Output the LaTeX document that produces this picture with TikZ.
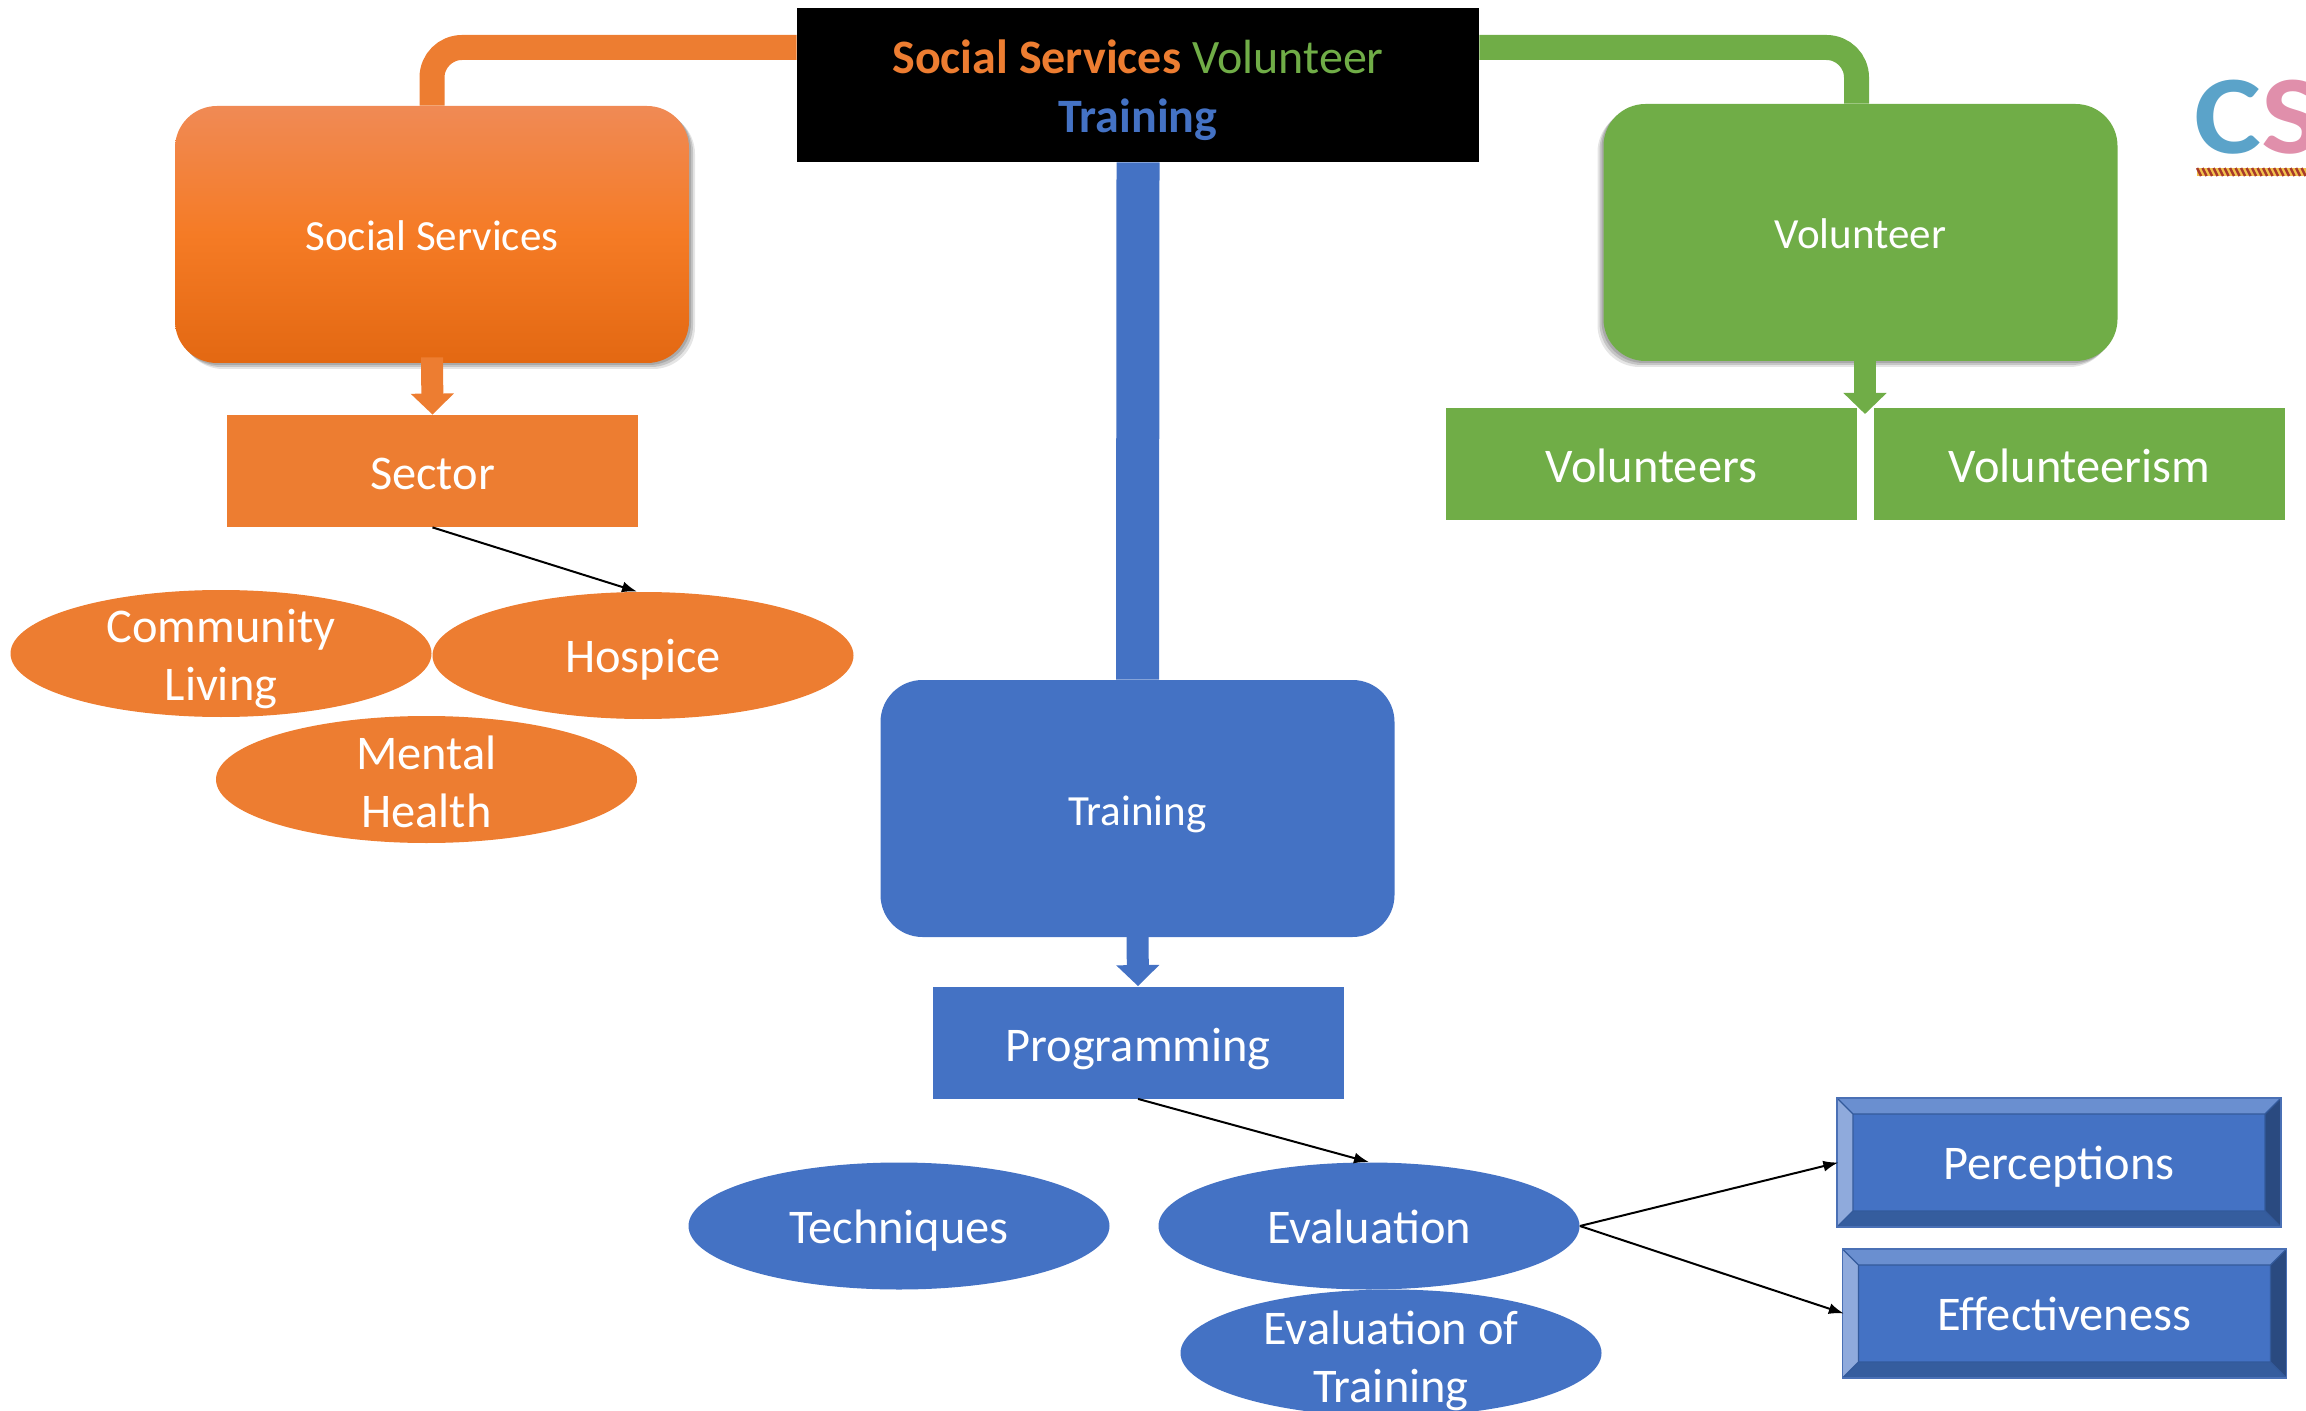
\documentclass[tikz,border=0pt]{standalone}
\usepackage{fontspec}
\setmainfont{Carlito}
\newfontfamily\logofont[FakeStretch=1.13]{Carlito}
\usetikzlibrary{arrows.meta,shapes.geometric,shadows,backgrounds,calc}
\definecolor{orangeC}{HTML}{ED7D31}
\definecolor{greenC}{HTML}{70AD47}
\definecolor{blueC}{HTML}{4472C4}
\definecolor{gradTop}{HTML}{F08A55}
\definecolor{gradMid}{HTML}{F57B25}
\definecolor{gradBot}{HTML}{E36812}
\tikzset{
  softR/.style={
    drop shadow={shadow xshift=1pt,shadow yshift=-1pt,opacity=.14,fill=black},
    drop shadow={shadow xshift=2pt,shadow yshift=-2pt,opacity=.14,fill=black},
    drop shadow={shadow xshift=3pt,shadow yshift=-3pt,opacity=.10,fill=black}},
  softL/.style={
    drop shadow={shadow xshift=-1pt,shadow yshift=-1pt,opacity=.14,fill=black},
    drop shadow={shadow xshift=-2pt,shadow yshift=-2pt,opacity=.14,fill=black},
    drop shadow={shadow xshift=-3pt,shadow yshift=-3pt,opacity=.10,fill=black}},
  bigbox/.style={rectangle,rounded corners=21pt,minimum width=257pt,minimum height=128.5pt,
    inner sep=0pt,text=white,text height=16.5pt,text depth=0pt,font=\fontsize{21.5}{26}\selectfont},
  flat/.style={rectangle,minimum width=205.5pt,minimum height=56pt,inner sep=0pt,
    text=white,text height=18.5pt,text depth=0pt,font=\fontsize{24.2}{28}\selectfont},
  oval/.style={ellipse,minimum width=210.5pt,minimum height=63.5pt,inner sep=-40pt,text=white,
    align=center,font=\fontsize{24.2}{29}\selectfont},
  ovalone/.style={oval,text height=17pt,text depth=0pt},
  bevelbox/.style={rectangle,minimum width=222pt,minimum height=64.5pt,inner sep=0pt,
    fill=blueC,draw=bevelEdgeB,line width=.7pt,text=white,text height=16.5pt,text depth=0pt,
    font=\fontsize{24.2}{28}\selectfont,
    path picture={
      \coordinate (nw) at (path picture bounding box.north west);
      \coordinate (ne) at (path picture bounding box.north east);
      \coordinate (sw) at (path picture bounding box.south west);
      \coordinate (se) at (path picture bounding box.south east);
      \coordinate (inw) at ($(nw)+(8pt,-8pt)$);
      \coordinate (ine) at ($(ne)+(-8pt,-8pt)$);
      \coordinate (isw) at ($(sw)+(8pt,8pt)$);
      \coordinate (ise) at ($(se)+(-8pt,8pt)$);
      \fill[fill=bevelTop] (nw)--(ne)--(ine)--(inw)--cycle;
      \fill[fill=bevelLeft] (nw)--(sw)--(isw)--(inw)--cycle;
      \fill[fill=bevelBot] (sw)--(se)--(ise)--(isw)--cycle;
      \fill[fill=bevelRight] (ne)--(se)--(ise)--(ine)--cycle;
      \draw[draw=bevelEdge,line width=.6pt] (inw) rectangle (ise) (nw)--(inw) (ne)--(ine) (sw)--(isw) (se)--(ise);
    }},
  thinarrow/.style={-{Latex[length=7.5pt,width=5.5pt]},line width=1pt,black},
  trunkline/.style={line width=12.5pt,rounded corners=15pt},
  blockarrow/.style={-{Triangle[length=10.5pt,width=21pt]},line width=11pt}
}
\definecolor{bevelTop}{HTML}{6A8FD0}
\definecolor{bevelLeft}{HTML}{8FAADC}
\definecolor{bevelBot}{HTML}{355D9E}
\definecolor{bevelRight}{HTML}{2A4A80}
\definecolor{bevelEdge}{HTML}{335A9B}
\definecolor{bevelEdgeB}{HTML}{4A70B5}
\definecolor{logoBlue}{HTML}{5BA3C9}
\definecolor{logoPink}{HTML}{E08FAB}
\definecolor{logoRed}{HTML}{A83A2A}
\definecolor{logoYellow}{HTML}{F2C14E}
\begin{document}
\begin{tikzpicture}[x=0.5pt,y=-0.5pt]
\clip (0,0) rectangle (2306,1411);
% logo
\node[inner sep=0pt,anchor=base west,font=\logofont\fontsize{56}{60}\bfseries\selectfont] (logo) at (2194,154)
  {\textcolor{logoBlue}{C}\textcolor{logoPink}{S}};
\coordinate (ruleL) at (2197,172);
\fill[logoYellow] (2197,168) rectangle (2306,176);
\foreach \i in {0,...,20}{
  \draw[logoRed,line width=1.2pt] ($(ruleL)+(\i*5.5,-4)$) -- ++(4,8);
}
% title
\node[rectangle,fill=black,minimum width=341pt,minimum height=77pt,inner sep=0pt,align=center,
  font=\fontsize{24}{29.5}\selectfont] (title) at (1138,85)
  {\rule{0pt}{22pt}\textcolor{orangeC}{\bfseries Social Services} \textcolor{greenC}{Volunteer}\\\textcolor{blueC}{\bfseries Training}\rule[-1pt]{0pt}{1pt}};
% main boxes
\node[bigbox,softR,top color=gradTop,bottom color=gradBot,middle color=gradMid] (social) at (432,234.5) {Social Services};
\node[bigbox,softL,fill=greenC] (volunteer) at (1860.5,232.5) {Volunteer};
\node[bigbox,fill=blueC] (training) at (1137.5,808.5) {Training};
% flat boxes
\node[flat,fill=orangeC] (sector) at (432.5,471) {Sector};
\node[flat,fill=greenC] (volunteers) at (1651.5,464) {Volunteers};
\node[flat,fill=greenC] (volunteerism) at (2079.5,464) {Volunteerism};
\node[flat,fill=blueC] (programming) at (1138,1042.5) {Programming};
% ovals
\node[oval,fill=orangeC] (community) at (221,653.5) {\rule{0pt}{22pt}Community\\Living};
\node[ovalone,fill=orangeC] (hospice) at (643,655.5) {Hospice};
\node[oval,fill=orangeC] (mental) at (426.5,779.5) {\rule{0pt}{19pt}Mental\\Health};
\node[ovalone,fill=blueC] (techniques) at (899,1226) {Techniques};
\node[ovalone,fill=blueC] (evaluation) at (1369,1226) {Evaluation};
\node[oval,fill=blueC] (evaltraining) at (1391,1353) {\rule{0pt}{25pt}Evaluation of\\Training};
% bevel boxes
\node[bevelbox] (perceptions) at (2059,1162.5) {Perceptions};
\node[bevelbox] (effectiveness) at (2064.5,1313.5) {Effectiveness};
% connectors behind the boxes
\begin{pgfonlayer}{background}
  \draw[trunkline,orangeC] ([yshift=18.75pt]title.west) -| (social.north);
  \draw[trunkline,greenC] ([yshift=18.75pt]title.east) -| ([xshift=-2pt]volunteer.north);
  \draw[line width=21.5pt,blueC] (title.south) -- (training.north);
\end{pgfonlayer}
% block arrows
\coordinate (vtip) at (1865,414);
\draw[blockarrow,orangeC] ([yshift=3pt]social.south) -- (sector.north);
\draw[blockarrow,greenC] ([xshift=2.25pt,yshift=2pt]volunteer.south) -- (vtip);
\draw[blockarrow,blueC] ([yshift=1pt]training.south) -- (programming.north);
% thin arrows
\draw[thinarrow] (sector.south) -- ([xshift=-3pt]hospice.north);
\draw[thinarrow] (programming.south) -- (evaluation.north);
\draw[thinarrow] (evaluation.east) -- ([xshift=1pt]perceptions.west);
\draw[thinarrow] (evaluation.east) -- ([xshift=1pt]effectiveness.west);
\end{tikzpicture}
\end{document}
